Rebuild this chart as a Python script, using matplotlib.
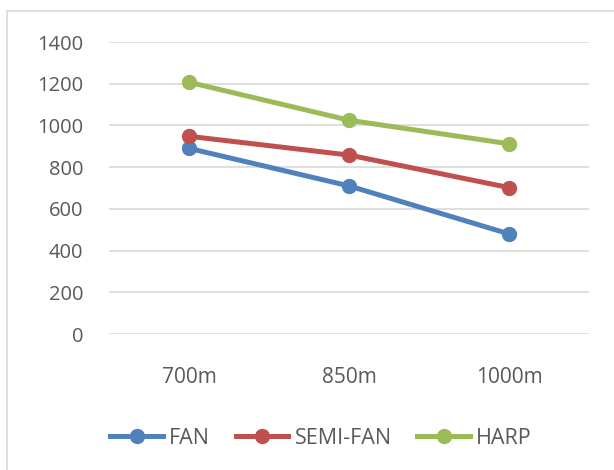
import matplotlib.pyplot as plt
from matplotlib.lines import Line2D

categories = ["700m", "850m", "1000m"]
fan = [890, 710, 480]
semi_fan = [948, 858, 702]
harp = [1207, 1025, 912]

series = [
    ("FAN", fan, "#4F81BD"),
    ("SEMI-FAN", semi_fan, "#C0504D"),
    ("HARP", harp, "#9BBB59"),
]

plt.rcParams["font.family"] = ["Open Sans", "DejaVu Sans"]
text_color = "#595959"

fig = plt.figure(figsize=(6.14, 4.70), dpi=100)
ax = fig.add_axes([109 / 614, 1 - 334 / 470, 480 / 614, 292 / 470])

x = list(range(len(categories)))
for name, vals, color in series:
    ax.plot(x, vals, color=color, linewidth=3.6, marker="o", markersize=10,
            label=name, solid_capstyle="round", zorder=3)

ax.set_xlim(-0.5, len(categories) - 0.5)
ax.set_ylim(0, 1400)
ax.set_yticks(range(0, 1401, 200))
ax.set_xticks(x)
ax.set_xticklabels(categories)
ax.grid(axis="y", color="#D9D9D9", linewidth=1.2)
ax.set_axisbelow(True)
for s in ax.spines.values():
    s.set_visible(False)
ax.tick_params(axis="both", length=0, labelsize=14.5, colors=text_color)
ax.tick_params(axis="x", labelsize=15, pad=24)
ax.tick_params(axis="y", pad=18.5)

handles = [Line2D([0], [0], color=c, linewidth=3.6, marker="o", markersize=10)
           for _, _, c in series]
fig.legend(handles, [n for n, _, _ in series], loc="center",
           bbox_to_anchor=(321 / 614, 1 - 438 / 470), ncol=3, frameon=False,
           fontsize=15.5, labelcolor=text_color, handlelength=2.45,
           handletextpad=0.28, columnspacing=1.2)

# light chart-area border (left and top)
fig.add_artist(Line2D([7 / 614, 7 / 614], [0, 1 - 11 / 470], color="#D9D9D9",
                      linewidth=1.2, transform=fig.transFigure))
fig.add_artist(Line2D([7 / 614, 1], [1 - 11 / 470, 1 - 11 / 470], color="#D9D9D9",
                      linewidth=1.2, transform=fig.transFigure))

fig.savefig("out.png", dpi=100)
